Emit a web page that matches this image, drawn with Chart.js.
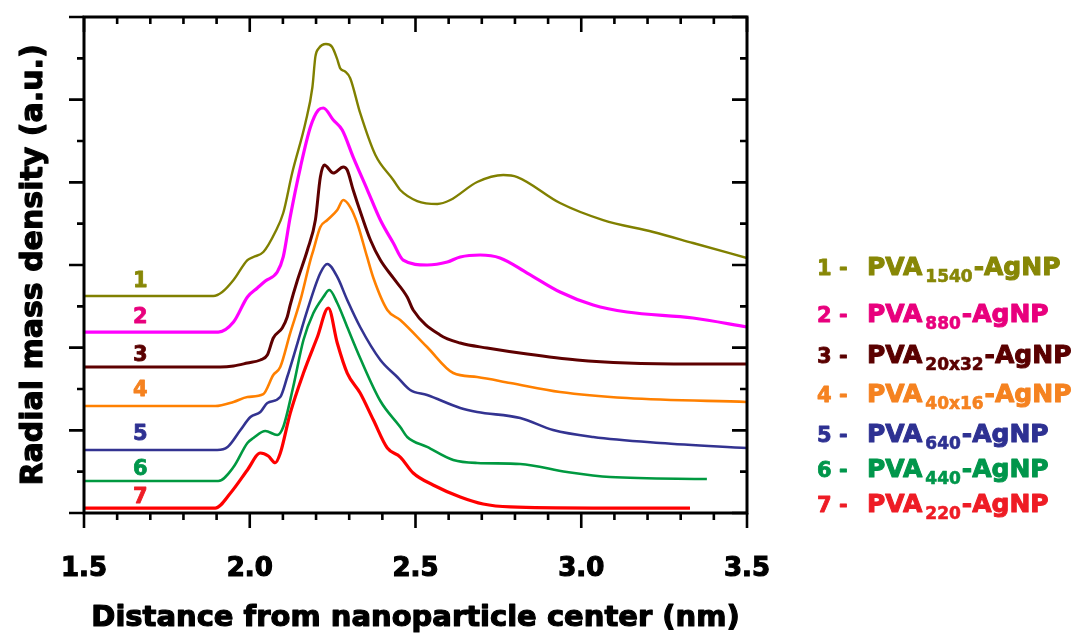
<!DOCTYPE html>
<html>
<head>
<meta charset="utf-8">
<script src="https://cdn.jsdelivr.net/npm/chart.js"></script>
<style>
  html, body { margin: 0; padding: 0; background: #fff; }
  canvas { display: block; }
</style>
</head>
<body>
<canvas id="rdfChart" width="1078" height="633"></canvas>
<script>
// Radial mass density profiles, [distance (nm), density (a.u., curves stacked)]
const pva1540 = [[1.500,2.625],[1.890,2.625],[1.917,2.673],[1.951,2.818],[1.993,3.060],[2.011,3.097],[2.041,3.157],[2.077,3.399],[2.101,3.629],[2.128,4.113],[2.168,4.720],[2.189,5.150],[2.198,5.520],[2.208,5.620],[2.230,5.673],[2.248,5.640],[2.263,5.500],[2.273,5.379],[2.288,5.340],[2.303,5.260],[2.333,4.839],[2.379,4.330],[2.433,4.028],[2.454,3.907],[2.505,3.774],[2.566,3.738],[2.605,3.786],[2.686,4.004],[2.765,4.089],[2.807,4.064],[2.936,3.750],[3.066,3.544],[3.217,3.399],[3.337,3.266],[3.500,3.085]];
const pva880 = [[1.500,2.189],[1.905,2.189],[1.951,2.310],[1.993,2.613],[2.023,2.722],[2.047,2.806],[2.083,2.915],[2.101,3.097],[2.122,3.580],[2.153,4.185],[2.183,4.669],[2.207,4.875],[2.222,4.899],[2.252,4.754],[2.279,4.633],[2.312,4.306],[2.355,3.907],[2.394,3.544],[2.433,3.266],[2.463,3.060],[2.535,3.000],[2.596,3.036],[2.635,3.097],[2.695,3.121],[2.755,3.085],[2.837,2.903],[2.936,2.673],[3.036,2.516],[3.138,2.431],[3.337,2.359],[3.500,2.250]];
const pva20x32 = [[1.500,1.766],[1.911,1.766],[1.951,1.778],[1.993,1.814],[2.032,1.851],[2.053,1.911],[2.071,2.117],[2.098,2.238],[2.113,2.371],[2.122,2.516],[2.144,2.818],[2.174,3.181],[2.198,3.544],[2.213,4.064],[2.225,4.209],[2.252,4.113],[2.282,4.185],[2.294,4.149],[2.312,3.907],[2.339,3.580],[2.364,3.302],[2.394,3.060],[2.433,2.843],[2.475,2.613],[2.493,2.456],[2.574,2.153],[2.635,2.056],[2.716,1.996],[2.837,1.923],[2.987,1.851],[3.138,1.814],[3.337,1.802],[3.500,1.802]];
const pva40x16 = [[1.500,1.294],[1.896,1.294],[1.951,1.343],[1.993,1.403],[2.041,1.439],[2.071,1.669],[2.092,1.766],[2.122,2.177],[2.153,2.577],[2.183,3.060],[2.192,3.181],[2.213,3.460],[2.234,3.544],[2.264,3.665],[2.282,3.786],[2.303,3.701],[2.324,3.508],[2.354,3.097],[2.373,2.843],[2.415,2.456],[2.454,2.335],[2.535,2.008],[2.614,1.693],[2.686,1.645],[2.786,1.573],[2.936,1.464],[3.138,1.391],[3.500,1.343]];
const pva640 = [[1.500,0.762],[1.902,0.762],[1.933,0.798],[1.972,1.004],[2.002,1.161],[2.032,1.222],[2.053,1.331],[2.092,1.403],[2.113,1.645],[2.144,2.056],[2.174,2.456],[2.213,2.903],[2.234,3.012],[2.264,2.855],[2.294,2.577],[2.333,2.250],[2.394,1.851],[2.445,1.645],[2.484,1.488],[2.535,1.427],[2.635,1.270],[2.686,1.222],[2.816,1.149],[2.915,1.004],[3.036,0.919],[3.238,0.847],[3.500,0.786]];
const pva440 = [[1.500,0.387],[1.905,0.387],[1.951,0.556],[1.993,0.847],[2.011,0.907],[2.047,0.992],[2.083,0.944],[2.101,1.040],[2.131,1.524],[2.162,2.093],[2.192,2.419],[2.222,2.613],[2.240,2.697],[2.264,2.540],[2.294,2.250],[2.333,1.875],[2.394,1.355],[2.454,1.040],[2.475,0.920],[2.535,0.800],[2.614,0.641],[2.686,0.605],[2.816,0.593],[2.957,0.496],[3.087,0.435],[3.379,0.411]];
const pva220 = [[1.500,0.060],[1.896,0.060],[1.942,0.242],[1.993,0.520],[2.032,0.726],[2.056,0.689],[2.077,0.608],[2.092,0.722],[2.122,1.206],[2.162,1.693],[2.204,2.129],[2.237,2.480],[2.264,2.056],[2.294,1.693],[2.333,1.452],[2.373,1.125],[2.415,0.786],[2.454,0.677],[2.493,0.484],[2.553,0.339],[2.635,0.194],[2.704,0.109],[2.786,0.073],[3.036,0.060],[3.328,0.060]];

const curveNumbers = ['1', '2', '3', '4', '5', '6', '7'];
const subscripts = ['1540', '880', '20x32', '40x16', '640', '440', '220'];
const xTickValues = [1.5, 2.0, 2.5, 3.0, 3.5];
const xTitle = 'Distance from nanoparticle center (nm)';
const yTitle = 'Radial mass density (a.u.)';

// where the small curve numbers sit (data coords)
const numberX = 1.67;
const numberY = [2.794, 2.359, 1.899, 1.476, 0.944, 0.520, 0.181];

const lineColors = ['#808000', '#ff00ff', '#5e0000', '#ff8000', '#333391', '#009940', '#ff0000'];
const textColors = ['#878706', '#e8007d', '#5a0000', '#f58220', '#2e3192', '#00964b', '#ee1c25'];
const lineWidths = [2.4, 3.2, 3, 2.6, 2.6, 2.6, 3.2];

const allSeries = [pva1540, pva880, pva20x32, pva40x16, pva640, pva440, pva220];

const FONT = '"DejaVu Sans", Arial, sans-serif';

function heavyText(ctx, text, x, y, weight) {
    ctx.lineWidth = weight;
    ctx.lineJoin = 'round';
    ctx.strokeText(text, x, y);
    ctx.fillText(text, x, y);
}

const frameTicks = {
    id: 'frameTicks',
    afterDatasetsDraw(chart) {
        const { ctx, chartArea: a, scales: { x, y } } = chart;
        ctx.save();
        ctx.strokeStyle = '#000';
        ctx.lineWidth = 3;
        ctx.strokeRect(a.left, a.top, a.right - a.left, a.bottom - a.top);
        ctx.lineWidth = 2.6;
        ctx.beginPath();
        // x: minor every 0.1, major every 0.5; bottom outward, top inward
        for (let i = 0; i <= 20; i++) {
            const px = x.getPixelForValue(1.5 + i * 0.1);
            const len = i % 5 === 0 ? 15 : 7;
            ctx.moveTo(px, a.bottom); ctx.lineTo(px, a.bottom + len);
            ctx.moveTo(px, a.top); ctx.lineTo(px, a.top + len);
        }
        // y: minor every 0.5, major every 1; left outward, right inward
        for (let i = 0; i <= 12; i++) {
            const py = y.getPixelForValue(i * 0.5);
            const len = i % 2 === 0 ? 15 : 7;
            ctx.moveTo(a.left, py); ctx.lineTo(a.left - len, py);
            ctx.moveTo(a.right, py); ctx.lineTo(a.right - len, py);
        }
        ctx.stroke();

        // curve numbers
        ctx.font = 'bold 21px ' + FONT;
        ctx.textAlign = 'center';
        ctx.textBaseline = 'middle';
        curveNumbers.forEach((n, i) => {
            ctx.fillStyle = textColors[i];
            ctx.strokeStyle = textColors[i];
            heavyText(ctx, n, x.getPixelForValue(numberX), y.getPixelForValue(numberY[i]), 0.8);
        });
        ctx.restore();
    }
};

const axisTitles = {
    id: 'axisTitles',
    afterDraw(chart) {
        const { ctx, chartArea: a } = chart;
        ctx.save();
        ctx.fillStyle = '#000';
        ctx.strokeStyle = '#000';
        ctx.textAlign = 'center';
        ctx.textBaseline = 'alphabetic';
        ctx.font = 'bold 29px ' + FONT;
        heavyText(ctx, xTitle, (a.left + a.right) / 2, 626, 1.2);
        ctx.translate(42, (a.top + a.bottom) / 2);
        ctx.rotate(-Math.PI / 2);
        ctx.font = 'bold 30px ' + FONT;
        heavyText(ctx, yTitle, 0, 0, 1.2);
        ctx.restore();
    }
};

const sideLegend = {
    id: 'sideLegend',
    afterDraw(chart) {
        const { ctx, chartArea: a } = chart;
        const baselines = [275, 322, 363, 402, 442, 477, 512];
        ctx.save();
        ctx.textAlign = 'left';
        ctx.textBaseline = 'alphabetic';
        curveNumbers.forEach((n, i) => {
            const yb = baselines[i];
            ctx.fillStyle = textColors[i];
            ctx.strokeStyle = textColors[i];
            ctx.font = 'bold 21px ' + FONT;
            heavyText(ctx, n + ' -', a.right + 70, yb, 0.8);
            let xp = a.right + 120;
            ctx.font = 'bold 25px ' + FONT;
            heavyText(ctx, 'PVA', xp, yb, 1);
            xp += ctx.measureText('PVA').width + 3;
            ctx.font = 'bold 17px ' + FONT;
            heavyText(ctx, subscripts[i], xp, yb + 7, 0.6);
            xp += ctx.measureText(subscripts[i]).width + 1;
            ctx.font = 'bold 25px ' + FONT;
            heavyText(ctx, '-AgNP', xp, yb, 1);
        });
        ctx.restore();
    }
};

const datasets = allSeries.map((s, i) => ({
    label: curveNumbers[i] + ' - PVA' + subscripts[i] + '-AgNP',
    data: s.map(p => ({ x: p[0], y: p[1] })),
    borderColor: lineColors[i],
    borderWidth: lineWidths[i],
    pointRadius: 0,
    fill: false,
    cubicInterpolationMode: 'monotone'
}));

new Chart(document.getElementById('rdfChart'), {
    type: 'line',
    data: { datasets },
    options: {
        responsive: false,
        animation: false,
        layout: { padding: { top: 17, right: 331, left: 0, bottom: 0 } },
        plugins: {
            legend: { display: false },
            tooltip: { enabled: false }
        },
        scales: {
            x: {
                type: 'linear',
                min: 1.5,
                max: 3.5,
                afterBuildTicks: scale => { scale.ticks = xTickValues.map(v => ({ value: v })); },
                afterFit: scale => { scale.height = 120; },
                grid: { display: false },
                border: { display: false },
                ticks: {
                    color: '#000',
                    textStrokeColor: '#000',
                    textStrokeWidth: 1.2,
                    padding: 33,
                    maxRotation: 0,
                    font: { family: FONT, weight: 'bold', size: 26 },
                    callback: v => v.toFixed(1)
                },
                title: { display: false }
            },
            y: {
                type: 'linear',
                min: 0,
                max: 6,
                afterFit: scale => { scale.width = 84; },
                grid: { display: false },
                border: { display: false },
                ticks: { display: false },
                title: { display: false }
            }
        }
    },
    plugins: [frameTicks, axisTitles, sideLegend]
});
</script>
</body>
</html>
